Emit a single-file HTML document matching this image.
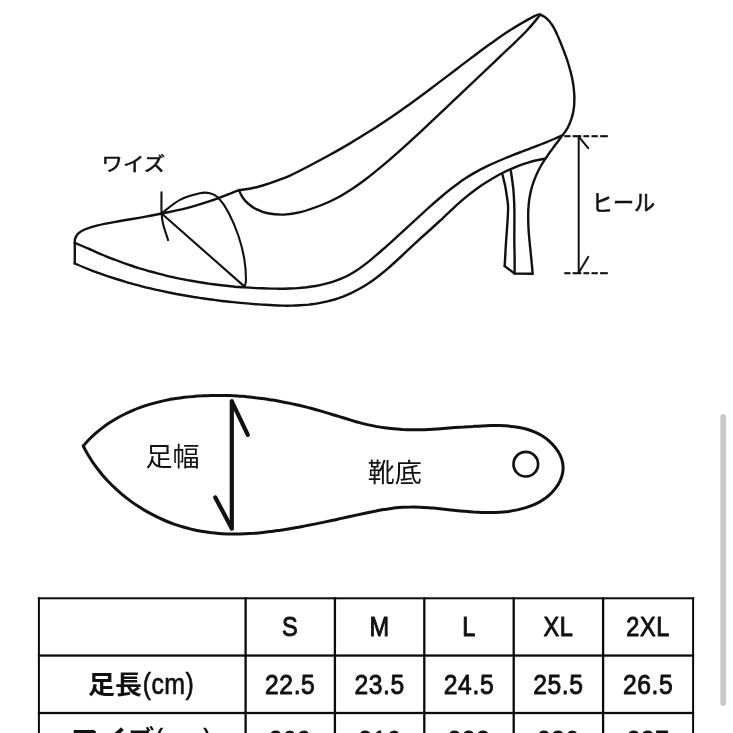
<!DOCTYPE html>
<html lang="ja"><head><meta charset="utf-8"><title>size chart</title>
<style>
html,body{margin:0;padding:0;background:#fff;}
body{width:733px;height:733px;overflow:hidden;font-family:"Liberation Sans",sans-serif;}
svg{display:block;filter:blur(0.45px);}
</style></head><body>
<svg width="733" height="760" viewBox="0 0 733 760">
<rect width="733" height="760" fill="#ffffff"/>
<path d="M74.8,243.2C74.9,242.4 74.7,240.1 75.2,238.5C75.8,236.9 76.5,235.1 78.1,233.6C79.7,232.1 81.3,230.9 84.6,229.5C87.9,228.1 92.8,226.6 97.7,225.4C102.6,224.2 108.6,223.1 114.1,222.1C119.6,221.1 125.0,220.2 130.5,219.3C136.0,218.4 141.7,217.4 146.9,216.4C152.1,215.4 155.3,214.8 161.6,213.5C167.9,212.2 176.8,210.8 184.8,208.7C192.8,206.6 203.1,203.4 209.8,201.2C216.5,199.0 220.1,197.4 225.0,195.6C229.9,193.8 236.7,191.0 239.0,190.1" fill="none" stroke="#111" stroke-width="2.4" stroke-linecap="round" stroke-linejoin="round" />
<path d="M239.0,190.1C240.8,189.9 245.7,189.6 249.6,188.8C253.5,188.0 257.8,187.0 262.7,185.5C267.6,184.0 274.6,181.5 279.1,179.8C283.7,178.2 284.9,178.0 290.0,175.6C295.1,173.2 303.3,169.0 310.0,165.5C316.7,162.0 323.3,158.5 330.0,154.8C336.7,151.1 343.3,147.4 350.0,143.4C356.7,139.4 363.3,135.3 370.0,131.1C376.7,126.9 383.3,122.5 390.0,118.0C396.7,113.5 403.3,108.7 410.0,103.9C416.7,99.1 423.3,94.2 430.0,89.2C436.7,84.2 443.3,79.1 450.0,74.1C456.7,69.0 463.3,63.9 470.0,58.9C476.7,53.9 483.3,48.9 490.0,44.1C496.7,39.3 502.5,35.0 510.0,30.3C517.5,25.6 529.9,18.5 534.9,15.9C539.9,13.3 539.4,14.8 540.3,14.6" fill="none" stroke="#111" stroke-width="2.4" stroke-linecap="round" stroke-linejoin="round" />
<path d="M239.0,190.1C239.6,191.2 240.8,194.8 242.3,197.0C243.8,199.2 245.7,201.5 248.0,203.5C250.3,205.5 252.9,207.6 256.2,209.2C259.5,210.8 263.1,212.4 267.7,213.3C272.3,214.2 278.6,214.8 284.0,214.6C289.4,214.4 294.1,213.8 300.4,212.2C306.7,210.6 315.8,207.3 321.7,205.0C327.6,202.7 331.3,200.9 336.0,198.5C340.7,196.1 345.0,193.6 350.0,190.3C355.0,187.1 360.7,183.0 366.0,179.0C371.3,175.0 376.7,170.5 382.0,166.1C387.3,161.7 392.7,157.0 398.0,152.3C403.3,147.6 408.7,142.7 414.0,137.8C419.3,132.9 424.7,127.9 430.0,122.9C435.3,117.9 440.7,112.8 446.0,107.8C451.3,102.8 456.7,97.8 462.0,92.7C467.3,87.7 472.7,82.6 478.0,77.5C483.3,72.4 488.7,67.4 494.0,62.3C499.3,57.2 504.7,52.2 510.0,47.1C515.3,42.0 521.9,35.8 526.0,31.5C530.1,27.2 532.7,24.0 534.9,21.4C537.1,18.8 538.5,16.8 539.2,15.9" fill="none" stroke="#111" stroke-width="2.4" stroke-linecap="round" stroke-linejoin="round" />
<path d="M540.3,14.6C541.0,15.0 543.1,15.9 544.4,16.8C545.6,17.6 546.8,18.5 547.8,19.6C548.9,20.6 549.8,21.7 550.7,22.9C551.6,24.0 552.4,25.3 553.2,26.6C553.9,27.9 554.6,29.2 555.3,30.6C556.0,32.0 556.6,33.4 557.2,34.8C557.9,36.2 558.5,37.7 559.1,39.1C559.7,40.5 560.3,42.0 560.9,43.4C561.4,44.8 562.0,46.3 562.6,47.7C563.2,49.2 563.7,50.6 564.3,52.1C564.8,53.5 565.3,55.0 565.9,56.4C566.4,57.9 566.9,59.3 567.4,60.8C567.9,62.3 568.3,63.7 568.8,65.2C569.2,66.7 569.6,68.2 570.0,69.6C570.5,71.1 570.8,72.6 571.2,74.1C571.5,75.6 571.9,77.1 572.2,78.6C572.5,80.1 572.8,81.6 573.0,83.1C573.3,84.6 573.5,86.1 573.7,87.6C573.8,89.2 574.0,90.7 574.1,92.2C574.2,93.7 574.3,95.3 574.4,96.8C574.4,98.3 574.4,99.9 574.3,101.4C574.3,102.9 574.2,104.4 574.1,105.9C573.9,107.4 573.7,109.0 573.5,110.4C573.2,111.9 572.9,113.4 572.6,114.9C572.2,116.3 571.8,117.8 571.3,119.2C570.8,120.7 570.3,122.1 569.7,123.5C569.1,124.9 568.4,126.3 567.7,127.6C566.9,129.0 566.1,130.3 565.2,131.6C564.3,132.9 562.8,134.8 562.3,135.4" fill="none" stroke="#111" stroke-width="2.4" stroke-linecap="round" stroke-linejoin="round" />
<path d="M74.8,243 L74.8,263.5" fill="none" stroke="#111" stroke-width="2.4" stroke-linecap="round" stroke-linejoin="round" />
<path d="M89.6,249.1C91.0,249.7 95.0,251.6 97.8,252.8C100.5,254.0 103.2,255.1 106.0,256.3C108.7,257.4 111.5,258.5 114.3,259.5C117.0,260.6 119.8,261.6 122.6,262.6C125.4,263.6 128.2,264.6 131.0,265.5C133.8,266.5 136.6,267.4 139.4,268.3C142.3,269.1 145.1,270.0 147.9,270.8C150.8,271.6 153.6,272.4 156.5,273.1C159.3,273.9 162.2,274.6 165.0,275.3C167.9,276.0 170.8,276.7 173.7,277.3C176.6,278.0 179.4,278.6 182.3,279.1C185.2,279.7 188.1,280.3 191.1,280.8C194.0,281.3 196.9,281.8 199.8,282.3C202.7,282.8 205.7,283.2 208.6,283.6C211.5,284.0 214.5,284.4 217.4,284.8C220.4,285.2 223.3,285.5 226.3,285.8C229.2,286.1 232.2,286.4 235.2,286.7C238.1,286.9 241.1,287.2 244.1,287.4C247.1,287.6 250.1,287.8 253.1,287.9C256.0,288.1 259.0,288.2 262.0,288.3C265.0,288.4 268.0,288.5 271.0,288.6C274.0,288.6 277.1,288.7 280.1,288.7C283.1,288.7 286.1,288.6 289.0,288.5C292.0,288.4 295.0,288.3 298.0,288.1C301.0,287.9 303.9,287.6 306.8,287.3C309.8,286.9 312.7,286.5 315.6,286.0C318.4,285.5 321.3,284.9 324.1,284.2C326.9,283.5 329.7,282.8 332.5,281.9C335.2,281.0 337.9,280.0 340.6,278.9C343.3,277.8 345.9,276.5 348.5,275.2C351.1,273.8 353.6,272.3 356.1,270.7C358.6,269.1 361.0,267.4 363.4,265.6C365.8,263.8 368.1,262.0 370.5,260.1C372.8,258.2 375.1,256.2 377.4,254.2C379.7,252.3 381.9,250.2 384.2,248.3C386.4,246.3 388.6,244.3 390.9,242.3C393.1,240.3 395.3,238.3 397.4,236.3C399.6,234.3 401.8,232.3 404.0,230.3C406.2,228.3 408.3,226.3 410.5,224.3C412.7,222.3 414.9,220.3 417.0,218.3C419.2,216.3 421.4,214.3 423.6,212.3C425.8,210.3 428.0,208.3 430.2,206.4C432.4,204.4 434.7,202.4 436.9,200.5C439.2,198.5 441.4,196.6 443.7,194.7C446.0,192.8 448.3,190.9 450.7,189.0C453.0,187.2 455.4,185.4 457.8,183.7C460.2,181.9 462.6,180.2 465.1,178.6C467.5,177.0 470.1,175.4 472.6,173.9C475.1,172.4 477.7,171.0 480.3,169.6C482.9,168.3 485.6,166.9 488.2,165.7C490.9,164.4 493.6,163.2 496.3,162.0C499.0,160.8 501.7,159.6 504.5,158.5C507.2,157.4 510.0,156.3 512.7,155.2C515.5,154.1 518.3,153.0 521.1,152.0C523.8,150.9 526.6,149.9 529.4,148.8C532.2,147.7 535.0,146.7 537.7,145.6C540.5,144.5 543.3,143.5 546.0,142.4C548.7,141.2 551.5,140.1 554.2,139.0C556.9,137.8 561.0,136.0 562.3,135.4" fill="none" stroke="#111" stroke-width="2.4" stroke-linecap="round" stroke-linejoin="round" />
<path d="M74.8,242.9C77.3,243.9 87.1,248.1 89.6,249.1" fill="none" stroke="#111" stroke-width="2.4" stroke-linecap="round" stroke-linejoin="round" />
<path d="M74.8,263.5C76.2,264.1 80.3,265.8 83.0,267.0C85.8,268.1 88.6,269.2 91.3,270.3C94.1,271.3 96.9,272.4 99.7,273.4C102.5,274.4 105.2,275.3 108.0,276.3C110.8,277.2 113.6,278.2 116.5,279.0C119.3,279.9 122.1,280.8 124.9,281.6C127.7,282.5 130.6,283.3 133.4,284.1C136.2,284.8 139.1,285.6 141.9,286.3C144.8,287.1 147.6,287.8 150.5,288.4C153.3,289.1 156.2,289.8 159.1,290.4C161.9,291.1 164.8,291.7 167.7,292.3C170.6,292.8 173.5,293.4 176.4,294.0C179.2,294.5 182.1,295.0 185.0,295.5C188.0,296.0 190.9,296.5 193.8,297.0C196.7,297.4 199.6,297.9 202.5,298.3C205.5,298.7 208.4,299.2 211.3,299.5C214.2,299.9 217.2,300.3 220.1,300.7C223.1,301.0 226.0,301.4 229.0,301.7C231.9,302.0 234.9,302.3 237.8,302.6C240.8,302.9 243.8,303.2 246.7,303.4C249.7,303.7 252.7,304.0 255.7,304.2C258.6,304.4 261.6,304.7 264.6,304.8C267.6,305.0 270.6,305.2 273.5,305.3C276.5,305.5 279.5,305.6 282.5,305.6C285.4,305.7 288.4,305.7 291.3,305.6C294.3,305.6 297.2,305.5 300.2,305.3C303.1,305.1 306.0,304.9 308.9,304.6C311.9,304.2 314.8,303.9 317.6,303.4C320.5,302.9 323.4,302.4 326.2,301.7C329.0,301.0 331.9,300.3 334.6,299.5C337.4,298.6 340.2,297.6 343.0,296.6C345.7,295.5 348.4,294.3 351.1,293.1C353.8,291.8 356.4,290.4 359.0,289.0C361.6,287.6 364.2,286.0 366.7,284.4C369.2,282.8 371.7,281.1 374.1,279.4C376.5,277.7 378.9,275.9 381.2,274.0C383.5,272.2 385.8,270.3 388.0,268.4C390.2,266.5 392.4,264.5 394.6,262.5C396.8,260.5 398.9,258.5 401.1,256.5C403.3,254.5 405.4,252.5 407.5,250.4C409.7,248.4 411.8,246.4 414.0,244.4C416.2,242.4 418.4,240.4 420.5,238.4C422.7,236.4 424.9,234.4 427.1,232.5C429.3,230.5 431.5,228.5 433.7,226.5C435.9,224.5 438.1,222.5 440.3,220.5C442.4,218.5 444.6,216.5 446.7,214.4C448.9,212.4 451.0,210.3 453.2,208.3C455.3,206.3 457.5,204.3 459.7,202.4C461.9,200.4 464.2,198.5 466.5,196.6C468.7,194.8 471.1,192.9 473.4,191.2C475.8,189.4 478.2,187.7 480.6,186.0C483.0,184.3 485.5,182.7 488.0,181.2C490.5,179.6 493.0,178.1 495.6,176.7C498.1,175.2 500.7,173.8 503.4,172.5C506.0,171.2 508.7,169.9 511.4,168.8C514.1,167.6 516.9,166.5 519.7,165.4C522.5,164.4 525.3,163.4 528.1,162.6C530.9,161.7 533.8,160.9 536.7,160.3C539.5,159.6 543.9,158.9 545.3,158.6" fill="none" stroke="#111" stroke-width="2.4" stroke-linecap="round" stroke-linejoin="round" />
<path d="M562.3,135.4C561.8,136.1 560.4,138.1 559.4,139.5C558.4,140.8 557.4,142.2 556.3,143.5C555.3,144.9 554.3,146.3 553.3,147.6C552.3,149.0 551.3,150.4 550.2,151.8C549.2,153.2 548.2,154.5 547.3,156.0C546.3,157.4 545.3,158.8 544.4,160.2C543.5,161.6 542.6,163.1 541.7,164.5C540.8,166.0 540.0,167.5 539.2,169.0C538.4,170.5 537.7,172.0 537.0,173.5C536.3,175.1 535.6,176.6 535.0,178.2C534.3,179.7 533.8,181.3 533.2,182.9C532.7,184.5 532.2,186.1 531.7,187.7C531.3,189.3 530.9,191.0 530.5,192.6C530.2,194.2 529.9,195.9 529.6,197.5C529.3,199.2 529.1,200.9 528.9,202.5C528.7,204.2 528.6,205.9 528.5,207.6C528.3,209.3 528.3,210.9 528.2,212.6C528.2,214.3 528.2,216.1 528.2,217.8C528.2,219.5 528.2,221.2 528.3,222.9C528.3,224.6 528.4,226.3 528.5,228.1C528.6,229.8 528.7,231.5 528.8,233.2C529.0,234.9 529.1,236.7 529.3,238.4C529.4,240.1 529.6,241.8 529.8,243.5C529.9,245.2 530.1,246.9 530.3,248.7C530.5,250.4 530.6,252.1 530.8,253.8C531.0,255.5 531.2,257.2 531.3,258.8C531.5,260.5 531.7,262.2 531.8,263.9C532.0,265.5 532.1,267.2 532.3,268.9C532.4,270.5 532.5,273.0 532.6,273.8" fill="none" stroke="#111" stroke-width="2.4" stroke-linecap="round" stroke-linejoin="round" />
<path d="M502.5,174.8C502.9,176.7 504.5,182.5 505.2,186.0C505.9,189.5 506.3,192.5 506.8,196.0C507.3,199.5 508.0,202.0 508.1,207.0C508.2,212.0 507.6,219.6 507.2,226.0C506.8,232.4 506.2,239.0 505.8,245.7C505.4,252.4 504.9,262.7 504.7,266.1" fill="none" stroke="#111" stroke-width="2.4" stroke-linecap="round" stroke-linejoin="round" />
<path d="M510.9,171.3C511.2,173.2 512.1,179.3 512.6,183.0C513.1,186.7 513.4,189.0 513.7,193.7C514.0,198.4 514.3,203.5 514.4,211.1C514.5,218.7 514.3,231.7 514.3,239.1C514.3,246.5 514.5,249.8 514.6,255.5C514.7,261.2 514.6,270.5 514.6,273.5" fill="none" stroke="#111" stroke-width="2.4" stroke-linecap="round" stroke-linejoin="round" />
<path d="M504.7,266.1 L514.6,273.6 L532.6,273.8" fill="none" stroke="#111" stroke-width="2.4" stroke-linecap="round" stroke-linejoin="round" />
<path d="M161.6,213.5C164.7,211.2 173.5,203.3 179.9,199.9C186.3,196.5 194.8,194.3 199.8,193.2C204.8,192.1 207.0,192.5 210.0,193.2C213.0,193.9 214.9,194.4 218.0,197.6C221.1,200.8 225.1,206.0 228.5,212.4C231.9,218.8 235.8,228.1 238.5,236.0C241.2,243.9 243.2,252.5 244.4,259.8C245.7,267.1 246.0,275.3 246.0,279.8C246.0,284.3 244.8,285.5 244.5,286.6" fill="none" stroke="#111" stroke-width="2.1" stroke-linecap="round" stroke-linejoin="round" />
<path d="M161.6,213.5 L244.3,286.4" fill="none" stroke="#111" stroke-width="2.1" stroke-linecap="round" stroke-linejoin="round" />
<path d="M161.5,192.4C161.5,195.9 161.3,208.1 161.6,213.5C161.9,218.9 162.1,220.2 163.2,224.6C164.3,229.0 167.3,237.5 168.1,240.1" fill="none" stroke="#111" stroke-width="2.1" stroke-linecap="round" stroke-linejoin="round" />
<path d="M564.3,136.2 L570.5,136.2" stroke="#111" stroke-width="2.1" fill="none"/>
<path d="M564.3,273.2 L570.5,273.2" stroke="#111" stroke-width="2.1" fill="none"/>
<path d="M572.6,136.2 L581.3,136.2" stroke="#111" stroke-width="2.1" fill="none"/>
<path d="M572.6,273.2 L581.3,273.2" stroke="#111" stroke-width="2.1" fill="none"/>
<path d="M583.4,136.2 L589.2,136.2" stroke="#111" stroke-width="2.1" fill="none"/>
<path d="M583.4,273.2 L589.2,273.2" stroke="#111" stroke-width="2.1" fill="none"/>
<path d="M591.5,136.2 L597.8,136.2" stroke="#111" stroke-width="2.1" fill="none"/>
<path d="M591.5,273.2 L597.8,273.2" stroke="#111" stroke-width="2.1" fill="none"/>
<path d="M600.1,136.2 L607.8,136.2" stroke="#111" stroke-width="2.1" fill="none"/>
<path d="M600.1,273.2 L607.8,273.2" stroke="#111" stroke-width="2.1" fill="none"/>
<path d="M578.7,136.6 L578.7,272.8" fill="none" stroke="#111" stroke-width="2.0" stroke-linecap="round" stroke-linejoin="round" />
<path d="M578.7,136.6 L588.2,148.2" fill="none" stroke="#111" stroke-width="2.0" stroke-linecap="round" stroke-linejoin="round" />
<path d="M578.7,272.8 L588.2,256.9" fill="none" stroke="#111" stroke-width="2.0" stroke-linecap="round" stroke-linejoin="round" />
<path d="M83.2,446.0C84.2,444.9 87.2,441.5 89.3,439.3C91.4,437.2 93.6,435.2 95.8,433.2C98.0,431.3 100.3,429.4 102.7,427.6C105.0,425.9 107.4,424.2 109.8,422.6C112.3,421.0 114.8,419.5 117.3,418.0C119.8,416.6 122.4,415.2 125.0,414.0C127.7,412.7 130.3,411.5 133.0,410.3C135.7,409.2 138.4,408.2 141.2,407.2C144.0,406.2 146.8,405.3 149.6,404.4C152.4,403.6 155.3,402.8 158.1,402.1C161.0,401.4 163.9,400.7 166.8,400.1C169.7,399.5 172.6,399.0 175.6,398.5C178.5,398.1 181.5,397.7 184.4,397.3C187.4,396.9 190.4,396.6 193.4,396.4C196.3,396.1 199.3,395.9 202.3,395.8C205.3,395.6 208.3,395.5 211.3,395.4C214.2,395.4 217.2,395.4 220.2,395.4C223.2,395.4 226.1,395.5 229.1,395.6C232.0,395.7 235.0,395.9 237.9,396.0C240.9,396.2 243.8,396.5 246.7,396.7C249.7,397.0 252.6,397.3 255.5,397.7C258.4,398.0 261.4,398.4 264.3,398.8C267.2,399.2 270.1,399.7 273.0,400.1C275.9,400.6 278.8,401.1 281.7,401.7C284.5,402.2 287.4,402.8 290.3,403.4C293.2,404.0 296.1,404.7 298.9,405.3C301.8,406.0 304.7,406.7 307.5,407.4C310.4,408.2 313.2,408.9 316.1,409.7C318.9,410.5 321.8,411.3 324.6,412.1C327.4,412.9 330.3,413.8 333.1,414.7C335.9,415.5 338.7,416.4 341.6,417.3C344.4,418.2 347.2,419.1 350.1,419.9C352.9,420.8 355.8,421.6 358.6,422.4C361.5,423.2 364.4,423.9 367.3,424.6C370.2,425.2 373.1,425.8 376.0,426.4C379.0,426.9 381.9,427.4 384.8,427.8C387.8,428.2 390.7,428.5 393.7,428.8C396.6,429.1 399.6,429.3 402.5,429.5C405.4,429.6 408.4,429.7 411.3,429.8C414.3,429.8 417.2,429.8 420.1,429.7C423.0,429.7 426.0,429.6 428.9,429.4C431.8,429.3 434.8,429.1 437.7,428.9C440.6,428.7 443.5,428.5 446.5,428.3C449.4,428.1 452.3,427.9 455.3,427.6C458.2,427.4 461.2,427.2 464.1,427.0C467.1,426.7 470.0,426.5 473.0,426.4C476.0,426.2 478.9,426.0 481.9,425.9C484.9,425.8 487.9,425.7 490.9,425.6C493.9,425.6 496.9,425.6 499.9,425.6C502.9,425.7 505.9,425.8 508.9,426.1C511.8,426.4 514.8,426.7 517.7,427.2C520.6,427.7 523.4,428.3 526.2,429.0C529.0,429.8 531.8,430.7 534.4,431.9C537.1,433.0 539.6,434.3 542.1,435.8C544.6,437.4 547.0,439.1 549.2,441.1C551.5,443.1 553.7,445.4 555.5,447.8C557.3,450.1 559.1,452.8 560.3,455.5C561.5,458.1 562.4,461.0 562.8,463.8C563.2,466.7 563.2,469.6 562.7,472.4C562.3,475.3 561.3,478.1 560.1,480.8C558.9,483.4 557.2,486.1 555.4,488.4C553.6,490.8 551.4,493.1 549.2,495.1C547.0,497.1 544.5,498.9 542.0,500.4C539.5,502.0 536.8,503.4 534.1,504.6C531.5,505.8 528.6,506.8 525.8,507.6C523.0,508.5 520.2,509.2 517.3,509.9C514.4,510.5 511.5,511.0 508.6,511.4C505.7,511.7 502.8,512.0 499.9,512.2C497.0,512.4 494.0,512.5 491.1,512.5C488.1,512.6 485.2,512.5 482.2,512.4C479.3,512.3 476.3,512.1 473.3,512.0C470.3,511.8 467.4,511.5 464.4,511.2C461.4,511.0 458.4,510.7 455.5,510.4C452.5,510.1 449.6,509.7 446.6,509.4C443.6,509.1 440.7,508.8 437.7,508.5C434.8,508.2 431.9,508.0 428.9,507.7C426.0,507.5 423.0,507.3 420.1,507.2C417.2,507.1 414.2,507.0 411.3,507.1C408.4,507.1 405.4,507.2 402.5,507.3C399.6,507.5 396.6,507.8 393.7,508.1C390.8,508.5 387.8,508.9 384.9,509.4C382.0,509.9 379.0,510.4 376.1,511.0C373.2,511.5 370.3,512.1 367.4,512.7C364.5,513.4 361.6,514.0 358.7,514.6C355.8,515.3 352.9,515.9 350.0,516.5C347.2,517.2 344.3,517.8 341.4,518.4C338.6,519.0 335.7,519.7 332.8,520.3C330.0,520.9 327.1,521.5 324.2,522.1C321.4,522.7 318.5,523.3 315.6,523.9C312.7,524.5 309.8,525.1 306.9,525.6C304.0,526.2 301.1,526.7 298.2,527.3C295.3,527.8 292.4,528.3 289.5,528.8C286.5,529.3 283.6,529.8 280.6,530.2C277.7,530.6 274.7,531.1 271.8,531.4C268.8,531.8 265.9,532.2 262.9,532.5C260.0,532.8 257.0,533.0 254.0,533.3C251.1,533.5 248.1,533.7 245.2,533.8C242.2,533.9 239.3,534.0 236.3,534.0C233.4,534.0 230.4,534.0 227.5,533.9C224.5,533.8 221.6,533.7 218.7,533.4C215.7,533.2 212.8,532.9 209.9,532.6C207.0,532.2 204.1,531.8 201.2,531.3C198.3,530.8 195.4,530.2 192.5,529.5C189.7,528.8 186.8,528.1 184.0,527.3C181.2,526.5 178.3,525.6 175.5,524.6C172.8,523.6 170.0,522.6 167.2,521.5C164.5,520.4 161.8,519.2 159.1,517.9C156.4,516.7 153.8,515.3 151.2,513.9C148.5,512.5 146.0,511.1 143.4,509.6C140.9,508.0 138.4,506.4 135.9,504.8C133.5,503.1 131.0,501.4 128.7,499.6C126.3,497.8 124.0,496.0 121.7,494.1C119.5,492.2 117.2,490.2 115.1,488.2C112.9,486.2 110.8,484.1 108.8,482.0C106.7,479.8 104.7,477.6 102.8,475.4C100.9,473.1 99.1,470.8 97.3,468.5C95.5,466.1 93.8,463.7 92.1,461.3C90.5,458.8 88.9,456.3 87.4,453.8C85.9,451.2 83.9,447.3 83.2,446.0" fill="none" stroke="#111" stroke-width="3.0" stroke-linecap="round" stroke-linejoin="round" />
<circle cx="525.8" cy="464.2" r="12.3" fill="none" stroke="#111" stroke-width="2.7"/>
<path d="M231.8,401.4 L231.8,528.4" fill="none" stroke="#111" stroke-width="4.2" stroke-linecap="round" stroke-linejoin="round" />
<path d="M231.8,401.4 L247.8,434.9" fill="none" stroke="#111" stroke-width="4.2" stroke-linecap="round" stroke-linejoin="round" />
<path d="M231.8,528.4 L215.3,497.4" fill="none" stroke="#111" stroke-width="4.2" stroke-linecap="round" stroke-linejoin="round" />
<text transform="translate(101.58,170.92) scale(1.09,1)" font-family="Liberation Sans, Noto Sans CJK JP, sans-serif" font-size="19.6" fill="#111" stroke="#111" stroke-width="0.5" stroke-linejoin="round">ワイズ</text>
<text transform="translate(591.84,211.07) scale(0.949,1)" font-family="Liberation Sans, Noto Sans CJK JP, sans-serif" font-size="22.2" fill="#111" stroke="#111" stroke-width="0.6" stroke-linejoin="round">ヒール</text>
<text transform="translate(145.42,465.97) scale(1.021,1)" font-family="Liberation Sans, Noto Sans CJK JP, sans-serif" font-size="26.5" fill="#111">足幅</text>
<text transform="translate(367.51,481.56) scale(1.055,1)" font-family="Liberation Sans, Noto Sans CJK JP, sans-serif" font-size="25.8" fill="#111">靴底</text>
<rect x="37.90" y="597.30" width="2.0" height="161.7" fill="#0a0a0a"/>
<rect x="244.45" y="597.30" width="2.3" height="161.7" fill="#0a0a0a"/>
<rect x="333.75" y="597.30" width="2.3" height="161.7" fill="#0a0a0a"/>
<rect x="423.15" y="597.30" width="2.3" height="161.7" fill="#0a0a0a"/>
<rect x="512.55" y="597.30" width="2.3" height="161.7" fill="#0a0a0a"/>
<rect x="601.95" y="597.30" width="2.3" height="161.7" fill="#0a0a0a"/>
<rect x="692.10" y="597.30" width="2.0" height="161.7" fill="#0a0a0a"/>
<rect x="37.90" y="597.30" width="656.20" height="2.0" fill="#0a0a0a"/>
<rect x="37.90" y="654.40" width="656.20" height="2.3" fill="#0a0a0a"/>
<rect x="37.90" y="711.85" width="656.20" height="2.3" fill="#0a0a0a"/>
<text transform="translate(290.2,635.6) scale(0.84,1)" text-anchor="middle" font-family="Liberation Sans, sans-serif" font-size="28" font-weight="normal" letter-spacing="0.7" fill="#111" stroke="#111" stroke-width="1.0" stroke-linejoin="round">S</text>
<text transform="translate(290.2,693.8) scale(0.88,1)" text-anchor="middle" font-family="Liberation Sans, sans-serif" font-size="28" font-weight="normal" letter-spacing="0.7" fill="#111" stroke="#111" stroke-width="0.9" stroke-linejoin="round">22.5</text>
<text transform="translate(290.2,750.0) scale(0.88,1)" text-anchor="middle" font-family="Liberation Sans, sans-serif" font-size="28" font-weight="normal" letter-spacing="0.7" fill="#111" stroke="#111" stroke-width="0.9" stroke-linejoin="round">209</text>
<text transform="translate(379.6,635.6) scale(0.84,1)" text-anchor="middle" font-family="Liberation Sans, sans-serif" font-size="28" font-weight="normal" letter-spacing="0.7" fill="#111" stroke="#111" stroke-width="1.0" stroke-linejoin="round">M</text>
<text transform="translate(379.6,693.8) scale(0.88,1)" text-anchor="middle" font-family="Liberation Sans, sans-serif" font-size="28" font-weight="normal" letter-spacing="0.7" fill="#111" stroke="#111" stroke-width="0.9" stroke-linejoin="round">23.5</text>
<text transform="translate(379.6,750.0) scale(0.88,1)" text-anchor="middle" font-family="Liberation Sans, sans-serif" font-size="28" font-weight="normal" letter-spacing="0.7" fill="#111" stroke="#111" stroke-width="0.9" stroke-linejoin="round">216</text>
<text transform="translate(469.0,635.6) scale(0.84,1)" text-anchor="middle" font-family="Liberation Sans, sans-serif" font-size="28" font-weight="normal" letter-spacing="0.7" fill="#111" stroke="#111" stroke-width="1.0" stroke-linejoin="round">L</text>
<text transform="translate(469.0,693.8) scale(0.88,1)" text-anchor="middle" font-family="Liberation Sans, sans-serif" font-size="28" font-weight="normal" letter-spacing="0.7" fill="#111" stroke="#111" stroke-width="0.9" stroke-linejoin="round">24.5</text>
<text transform="translate(469.0,750.0) scale(0.88,1)" text-anchor="middle" font-family="Liberation Sans, sans-serif" font-size="28" font-weight="normal" letter-spacing="0.7" fill="#111" stroke="#111" stroke-width="0.9" stroke-linejoin="round">223</text>
<text transform="translate(558.4,635.6) scale(0.84,1)" text-anchor="middle" font-family="Liberation Sans, sans-serif" font-size="28" font-weight="normal" letter-spacing="0.7" fill="#111" stroke="#111" stroke-width="1.0" stroke-linejoin="round">XL</text>
<text transform="translate(558.4,693.8) scale(0.88,1)" text-anchor="middle" font-family="Liberation Sans, sans-serif" font-size="28" font-weight="normal" letter-spacing="0.7" fill="#111" stroke="#111" stroke-width="0.9" stroke-linejoin="round">25.5</text>
<text transform="translate(558.4,750.0) scale(0.88,1)" text-anchor="middle" font-family="Liberation Sans, sans-serif" font-size="28" font-weight="normal" letter-spacing="0.7" fill="#111" stroke="#111" stroke-width="0.9" stroke-linejoin="round">230</text>
<text transform="translate(648.1,635.6) scale(0.84,1)" text-anchor="middle" font-family="Liberation Sans, sans-serif" font-size="28" font-weight="normal" letter-spacing="0.7" fill="#111" stroke="#111" stroke-width="1.0" stroke-linejoin="round">2XL</text>
<text transform="translate(648.1,693.8) scale(0.88,1)" text-anchor="middle" font-family="Liberation Sans, sans-serif" font-size="28" font-weight="normal" letter-spacing="0.7" fill="#111" stroke="#111" stroke-width="0.9" stroke-linejoin="round">26.5</text>
<text transform="translate(648.1,750.0) scale(0.88,1)" text-anchor="middle" font-family="Liberation Sans, sans-serif" font-size="28" font-weight="normal" letter-spacing="0.7" fill="#111" stroke="#111" stroke-width="0.9" stroke-linejoin="round">237</text>
<text transform="translate(88.08,693.80) scale(1.024,1)" font-family="Liberation Sans, Noto Sans CJK JP, sans-serif" font-size="26.4" font-weight="bold" fill="#111">足長</text>
<text transform="translate(168.4,693.6) scale(0.83,1)" text-anchor="middle" font-family="Liberation Sans, sans-serif" font-size="30" font-weight="normal" letter-spacing="0.5" fill="#111" stroke="#111" stroke-width="0.7" stroke-linejoin="round">(cm)</text>
<text transform="translate(70.39,749.98) scale(1.019,1)" font-family="Liberation Sans, Noto Sans CJK JP, sans-serif" font-size="27.8" font-weight="bold" fill="#111">ワイズ</text>
<text transform="translate(183.5,750.0) scale(0.79,1)" text-anchor="middle" font-family="Liberation Sans, sans-serif" font-size="30" font-weight="normal" letter-spacing="0.5" fill="#111" stroke="#111" stroke-width="0.7" stroke-linejoin="round">(mm)</text>
<rect x="720.3" y="414" width="5.8" height="292" rx="2.9" fill="#c9c9c9"/>
</svg>
</body></html>
